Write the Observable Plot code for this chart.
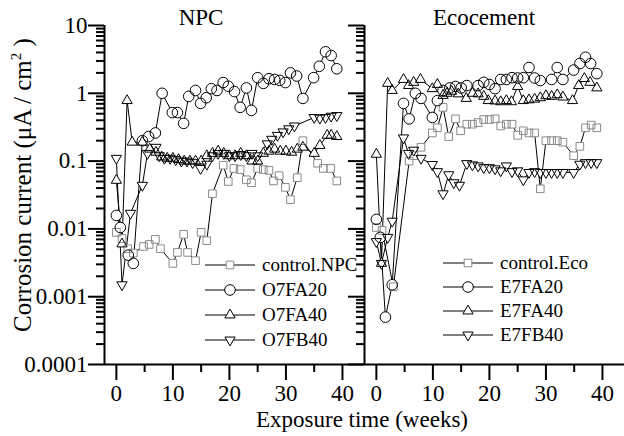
<!DOCTYPE html>
<html><head><meta charset="utf-8">
<script src="https://cdn.jsdelivr.net/npm/d3@7"></script>
<script src="https://cdn.jsdelivr.net/npm/@observablehq/plot@0.6"></script>
<style>
body{margin:0;background:#fff;}
#chart{position:relative;width:624px;height:436px;overflow:hidden;font-family:"Liberation Serif","Times New Roman",serif;background:#fff;}
#chart svg{position:absolute;top:0;overflow:visible;}
</style></head><body><div id="chart"></div>
<script>
// ---------- DATA ----------
const panelTitles = ["NPC", "Ecocement"];
const xLabel = "Exposure time (weeks)";
const yTicks = [0.0001, 0.001, 0.01, 0.1, 1, 10];
const yTickLabels = ["0.0001", "0.001", "0.01", "0.1", "1", "10"];
const xTicks = [0, 10, 20, 30, 40];
const xTickLabels = ["0", "10", "20", "30", "40"];
const xMinorTicks = [5, 15, 25, 35];

const npcNames = ["control.NPC", "O7FA20", "O7FA40", "O7FB40"];
const ecoNames = ["control.Eco", "E7FA20", "E7FA40", "E7FB40"];

// NPC control (squares)
const npcControlWeeks = [0,1,2,3,4.8,5.8,6.9,7.8,10,10.8,11.9,12.6,14,15,16,17,18.9,19.8,20.8,21.9,23,23.9,25,26,27,27.8,28.8,29.9,30.8,32,33,35.6,36.6,37.9,39];
const npcControlValues = [0.0089,0.0072,0.0051,0.0044,0.0055,0.0059,0.007,0.0051,0.0031,0.0045,0.0083,0.0045,0.0034,0.0089,0.0067,0.033,0.087,0.05,0.078,0.075,0.053,0.048,0.078,0.075,0.073,0.051,0.061,0.041,0.027,0.057,0.2,0.093,0.078,0.078,0.051];
// NPC O7FA20 (circles)
const npcFA20Weeks = [0,0.7,2.1,3,4.6,5.7,6.9,8.1,9.9,10.8,11.9,12.8,14,14.9,15.9,16.8,17.8,18.9,19.8,20.9,21.9,23,23.9,25,26,27,28,28.9,29.9,30.8,31.9,33,34.9,35.9,37,38,39];
const npcFA20Values = [0.0158,0.0105,0.0041,0.0031,0.2,0.23,0.26,1.0,0.52,0.52,0.36,0.9,1.1,0.71,0.86,1.17,1.1,1.44,1.27,1.06,0.62,1.2,0.56,1.7,1.4,1.64,1.6,1.55,1.44,2.0,1.8,0.84,1.7,2.5,4.1,3.6,2.3];
// NPC O7FA40 (triangles up)
const npcFA40Weeks = [0,1,1.9,2.8,4.6,5.9,7,8,9,10,11,12,13,14,15,16,17,18,19,20,21,22,23,24,25,26,27,28,29,30,31,32,33,35,36,37.3,38,39];
const npcFA40Values = [0.052,0.006,0.78,0.19,0.19,0.15,0.135,0.115,0.11,0.11,0.105,0.1,0.1,0.1,0.1,0.12,0.13,0.14,0.13,0.12,0.12,0.13,0.12,0.1,0.1,0.13,0.14,0.15,0.14,0.14,0.135,0.15,0.16,0.13,0.17,0.24,0.24,0.23];
// NPC O7FB40 (triangles down)
const npcFB40Weeks = [0,1,2.5,4.6,5.5,7,7.6,8.5,9.5,10.5,11.5,12.5,13.5,14.9,16,17,18,19,20,21,22,23,24,25,26.7,27.5,28.5,29.5,30.5,31.5,35,36,37,38,39];
const npcFB40Values = [0.11,0.0015,0.017,0.044,0.13,0.16,0.12,0.11,0.11,0.105,0.1,0.1,0.095,0.078,0.09,0.12,0.13,0.13,0.12,0.12,0.125,0.12,0.13,0.12,0.18,0.21,0.24,0.27,0.3,0.33,0.44,0.43,0.44,0.46,0.47];

// Ecocement control (squares)
const ecoControlWeeks = [0,1,3,5.8,6.6,7.9,9.9,10.8,11.8,12.8,14,14.9,16,17,18,19,20,21,22,23,24,25,26,27,28,29,30,31,32,33,34.9,36,37,38,39];
const ecoControlValues = [0.0105,0.0095,0.0014,0.1,0.12,0.16,0.26,0.31,0.62,0.23,0.42,0.28,0.35,0.35,0.37,0.41,0.41,0.42,0.33,0.35,0.35,0.24,0.28,0.26,0.26,0.039,0.2,0.2,0.2,0.19,0.12,0.165,0.31,0.34,0.31];
// Ecocement E7FA20 (circles)
const ecoFA20Weeks = [0,0.7,1.6,2.8,4.8,5.8,6.9,7.9,9.9,10.8,11.8,13,14,15,16,18,19,20,21,22,23,24,25,26,27,28,29,31,32,33,34.9,36,37,37.9,39];
const ecoFA20Values = [0.0138,0.0075,0.0005,0.0015,0.71,0.42,1.0,0.84,0.44,0.78,1.1,1.2,1.26,1.2,1.3,1.3,1.45,1.35,1.17,1.6,1.6,1.7,1.68,1.7,2.4,1.68,1.54,1.6,2.4,1.6,2.2,2.75,3.4,2.75,1.95];
// Ecocement E7FA40 (triangles up)
const ecoFA40Weeks = [0,0.9,2,2.8,4.8,5.7,6.6,7.8,9.9,10.8,11.8,12.5,13.3,14.5,15.9,17,18,19,19.8,21,22,23,23.9,25,26,27,28,29,30,31,32,33,34.7,35.8,36.8,37.8,39];
const ecoFA40Values = [0.126,0.0031,1.4,1.1,1.6,1.3,1.45,1.6,1.17,1.35,0.93,1.0,1.07,0.98,0.84,1.0,0.98,0.9,0.78,0.77,0.75,0.78,0.75,1.26,0.78,0.8,0.82,0.86,0.92,0.9,0.95,0.88,0.78,1.3,1.65,1.45,1.2];
// Ecocement E7FB40 (triangles down)
const ecoFB40Weeks = [0,0.9,2,2.8,4.8,5.7,6.6,7.9,9.9,10.8,11.8,12.8,13.7,14.7,16,17,18,19,20,21,22,23,24,25,26,27,28,29,30,31,32,33,34.9,36,37,38,39];
const ecoFB40Values = [0.0065,0.0031,0.0075,0.013,0.22,0.13,0.145,0.11,0.089,0.07,0.033,0.063,0.048,0.044,0.092,0.088,0.085,0.08,0.08,0.077,0.072,0.085,0.07,0.072,0.053,0.068,0.07,0.068,0.068,0.068,0.068,0.068,0.068,0.09,0.095,0.095,0.095];

// ---------- STYLE ----------
const FONT = '"Liberation Serif","Times New Roman",serif';
const triangleDown = {
  draw(context, size) {
    const y = -Math.sqrt(size / (Math.sqrt(3) * 3));
    context.moveTo(0, -y * 2);
    context.lineTo(-Math.sqrt(3) * y, y);
    context.lineTo(Math.sqrt(3) * y, y);
    context.closePath();
  }
};
const markerStyles = [
  {symbol: "square", r: 4.3, stroke: "#8a8a8a", d3sym: d3.symbolSquare},
  {symbol: "circle", r: 5.3, stroke: "#000", d3sym: d3.symbolCircle},
  {symbol: "triangle", r: 3.8, stroke: "#000", d3sym: d3.symbolTriangle},
  {symbol: triangleDown, r: 3.8, stroke: "#000", d3sym: triangleDown}
];

function rows(weeks, values) { return weeks.map((w, i) => ({w, v: values[i]})); }
const npcSeries = [
  rows(npcControlWeeks, npcControlValues), rows(npcFA20Weeks, npcFA20Values),
  rows(npcFA40Weeks, npcFA40Values), rows(npcFB40Weeks, npcFB40Values)
];
const ecoSeries = [
  rows(ecoControlWeeks, ecoControlValues), rows(ecoFA20Weeks, ecoFA20Values),
  rows(ecoFA40Weeks, ecoFA40Values), rows(ecoFB40Weeks, ecoFB40Values)
];

const xDomain = [-2.1, 43.9];
const yMinor = [];
yTicks.slice(0, -1).forEach(d => { for (let k = 2; k <= 9; k++) yMinor.push(+(d * k).toPrecision(3)); });

function panel(series, showYLabels, width, marginLeft) {
  const marks = [];
  series.forEach(data => marks.push(Plot.line(data, {x: "w", y: "v", stroke: "#000", strokeWidth: 1})));
  series.forEach((data, i) => marks.push(Plot.dot(data, {x: "w", y: "v", symbol: markerStyles[i].symbol, r: markerStyles[i].r, fill: "white", stroke: "none"})));
  series.forEach((data, i) => marks.push(Plot.dot(data, {x: "w", y: "v", symbol: markerStyles[i].symbol, r: markerStyles[i].r, fill: "none", stroke: markerStyles[i].stroke, strokeWidth: 1})));
  marks.push(
    Plot.axisY(yMinor, {tickSize: 8, tickFormat: () => "", strokeWidth: 2}),
    Plot.axisY(yTicks, {tickSize: 16, tickPadding: 1, strokeWidth: 2,
      tickFormat: showYLabels ? (d => yTickLabels[yTicks.indexOf(d)]) : (() => "")}),
    Plot.axisX(xMinorTicks, {tickSize: 8, tickFormat: () => "", strokeWidth: 2}),
    Plot.axisX(xTicks, {tickSize: 16, tickPadding: 4, strokeWidth: 2,
      tickFormat: d => xTickLabels[xTicks.indexOf(d)]}),
    Plot.ruleX([xDomain[0]], {strokeWidth: 2}),
    Plot.ruleY([yTicks[0]], {strokeWidth: 2})
  );
  return Plot.plot({
    width, height: 436, marginLeft, marginRight: 0, marginTop: 25, marginBottom: 72,
    x: {domain: xDomain, label: null},
    y: {type: "log", domain: [yTicks[0], yTicks[yTicks.length - 1]], label: null},
    style: {fontFamily: FONT, fontSize: "23px", background: "transparent", color: "#000", overflow: "visible"},
    marks
  });
}

const chart = document.getElementById("chart");
const left = panel(npcSeries, true, 364, 104);
left.style.left = "0px";
chart.appendChild(left);
const right = panel(ecoSeries, false, 284, 24);
right.style.left = "340px";
chart.appendChild(right);

// overlay: titles, axis labels, legends
const ov = d3.select(chart).append("svg").attr("width", 624).attr("height", 436)
  .style("left", "0px").style("font-family", FONT).style("pointer-events", "none");
ov.append("text").attr("x", 201).attr("y", 25).attr("text-anchor", "middle").attr("font-size", 23).text(panelTitles[0]);
ov.append("text").attr("x", 484).attr("y", 25).attr("text-anchor", "middle").attr("font-size", 23).text(panelTitles[1]);
ov.append("text").attr("x", 362).attr("y", 427).attr("text-anchor", "middle").attr("font-size", 23).text(xLabel);
const yl = ov.append("text").attr("transform", "translate(31,185) rotate(-90)").attr("text-anchor", "middle").attr("font-size", 25);
yl.append("tspan").text("Corrosion current (\u03bcA / cm");
yl.append("tspan").attr("font-size", 15).attr("dy", -10).text("2");
yl.append("tspan").attr("dy", 10).text(" )");

function legend(names, x0, ys) {
  names.forEach((name, i) => {
    const y = ys[i];
    const g = ov.append("g");
    g.append("line").attr("x1", x0).attr("x2", x0 + 50).attr("y1", y).attr("y2", y).attr("stroke", "#000");
    const ms = markerStyles[i];
    g.append("path").attr("transform", `translate(${x0 + 25},${y})`)
      .attr("d", d3.symbol(ms.d3sym, Math.PI * ms.r * ms.r)())
      .attr("fill", "white").attr("stroke", ms.stroke);
    g.append("text").attr("x", x0 + 57).attr("y", y + 6).attr("font-size", 19).text(name);
  });
}
legend(npcNames, 205, [265, 290, 315, 340]);
legend(ecoNames, 443, [263, 287, 311, 335]);
</script></body></html>
